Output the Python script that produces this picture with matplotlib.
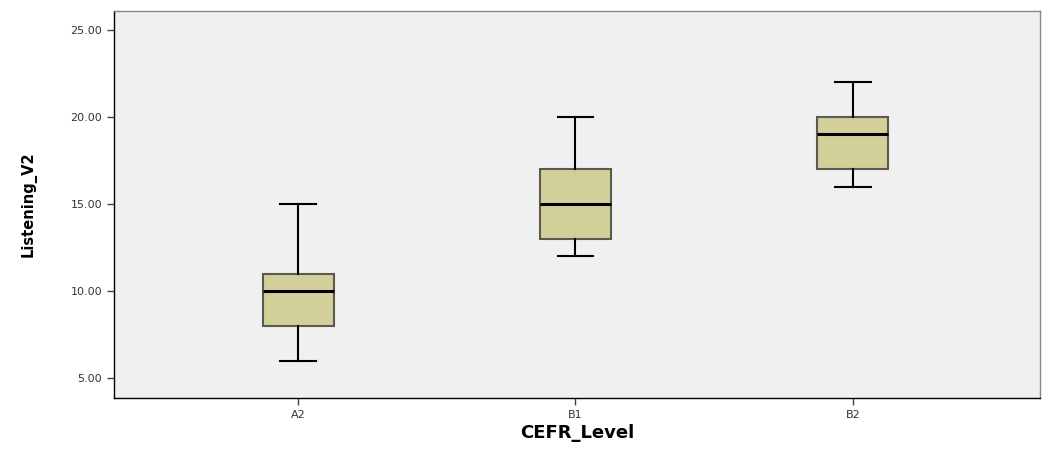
import matplotlib
matplotlib.use('Agg')
import matplotlib.pyplot as plt

# Box summary values
levels = ['A2', 'B1', 'B2']
whislo = [6, 12, 16]
q1 = [8, 13, 17]
med = [10, 15, 19]
q3 = [11, 17, 20]
whishi = [15, 20, 22]
yticks = [5, 10, 15, 20, 25]

stats = []
for i in range(len(levels)):
    stats.append({'label': levels[i], 'whislo': whislo[i], 'q1': q1[i], 'med': med[i],
                  'q3': q3[i], 'whishi': whishi[i], 'fliers': []})

fig = plt.figure(figsize=(10.56, 4.53), dpi=100)
fig.patch.set_facecolor('white')
ax = fig.add_axes([114/1056, 1 - 398/453, (1040 - 114)/1056, (398 - 11)/453])
ax.set_facecolor('#f0f0f0')

ax.bxp(stats, positions=[1, 2, 3], widths=0.256, patch_artist=True, showfliers=False,
       boxprops=dict(facecolor='#d3cf99', edgecolor='#5a5a50', linewidth=1.5),
       medianprops=dict(color='black', linewidth=2.2),
       whiskerprops=dict(color='black', linewidth=1.5),
       capprops=dict(color='black', linewidth=1.5),
       capwidths=0.128)

ax.set_xlim(0.336, 3.675)
ax.set_ylim(3.85, 26.1)
ax.set_yticks(yticks)
ax.set_yticklabels(['{:.2f}'.format(v) for v in yticks], fontsize=8, color='#333333')
ax.set_xticks([1, 2, 3])
ax.set_xticklabels(levels, fontsize=8, color='#333333')
ax.tick_params(axis='both', length=5, width=1, color='#444444')

for s in ax.spines.values():
    s.set_color('black')
    s.set_linewidth(1)
ax.spines['top'].set_color('#888888')
ax.spines['right'].set_color('#888888')

ax.set_ylabel('Listening_V2', fontsize=10.5, fontweight='bold', labelpad=24)
ax.set_xlabel('CEFR_Level', fontsize=13, fontweight='bold', labelpad=3)

fig.savefig('out.png', dpi=100)
